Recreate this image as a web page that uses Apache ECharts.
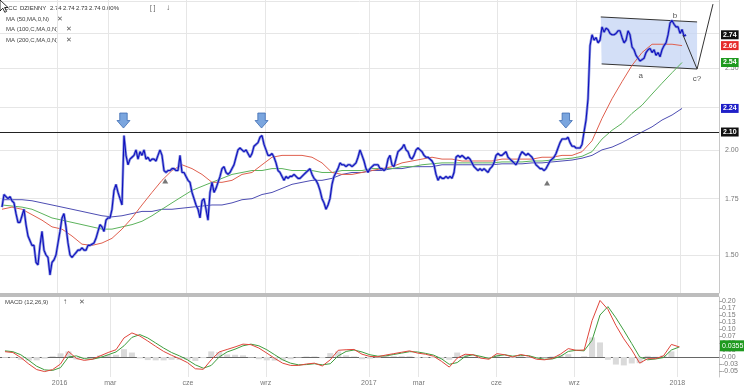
<!DOCTYPE html>
<html><head><meta charset="utf-8">
<script src="https://cdn.jsdelivr.net/npm/echarts@6/dist/echarts.min.js"></script>
<style>html,body{margin:0;padding:0;background:#fff}#c{width:744px;height:392px}</style>
</head><body><div id="c"></div>
<script>
// ---------------- data ----------------
const firstSampleDate = '2015-10-28T11:00:00Z';
const sampleStepDays = 2.3467;
const closes = [
1.71,1.77,1.76,1.75,1.76,1.74,1.73,1.68,1.64,1.64,
1.67,1.70,1.63,1.58,1.56,1.54,1.54,1.47,1.46,1.54,
1.60,1.52,1.50,1.49,1.42,1.47,1.48,1.50,1.55,1.60,
1.66,1.68,1.62,1.55,1.50,1.49,1.50,1.51,1.52,1.52,
1.53,1.52,1.52,1.54,1.54,1.545,1.55,1.57,1.60,1.63,
1.62,1.60,1.65,1.66,1.66,1.70,1.79,1.82,1.78,1.75,
1.72,2.08,1.97,1.92,1.95,1.96,1.97,2.00,1.95,1.99,
1.97,2.00,1.95,1.96,1.94,1.95,1.95,1.94,1.97,2.00,
1.97,1.89,1.88,1.89,1.89,1.90,1.90,1.89,1.89,1.97,
1.88,1.88,1.86,1.84,1.83,1.78,1.75,1.72,1.70,1.66,
1.74,1.75,1.70,1.65,1.78,1.83,1.78,1.80,1.83,1.86,
1.90,1.91,1.88,1.87,1.88,1.90,1.92,1.96,2.00,2.01,
2.00,1.99,2.00,1.98,1.96,1.98,2.02,2.03,2.04,2.07,
2.08,2.03,2.00,1.97,1.97,1.98,1.96,1.93,1.89,1.88,
1.86,1.84,1.86,1.85,1.86,1.86,1.87,1.86,1.85,1.85,
1.86,1.87,1.88,1.89,1.90,1.87,1.85,1.84,1.82,1.79,
1.75,1.73,1.70,1.72,1.75,1.82,1.86,1.88,1.90,1.93,
1.92,1.92,1.91,1.92,1.92,1.91,1.92,1.93,1.96,2.00,
1.97,1.94,1.90,1.88,1.90,1.91,1.92,1.92,1.92,1.90,
1.90,1.89,1.90,1.95,1.97,1.92,1.91,1.95,1.99,2.00,
2.01,2.03,2.00,1.99,1.96,1.95,1.97,2.00,2.01,2.00,
1.99,1.97,1.96,1.96,1.95,1.94,1.92,1.87,1.84,1.86,
1.85,1.85,1.86,1.85,1.86,1.85,1.88,1.96,1.97,1.96,
1.97,1.96,1.95,1.96,1.95,1.93,1.91,1.90,1.89,1.90,
1.89,1.90,1.89,1.88,1.90,1.91,1.93,1.97,1.98,1.97,
1.97,1.98,1.99,1.96,1.95,1.94,1.93,1.92,1.94,1.97,
1.99,1.98,1.97,1.98,1.97,1.96,1.94,1.92,1.91,1.90,
1.90,1.89,1.90,1.92,1.94,1.95,1.96,1.98,2.01,2.04,
2.06,2.06,2.06,2.07,2.04,2.02,2.02,2.01,2.01,2.01,
2.03,2.10,2.17,2.30,2.66,2.74,2.70,2.72,2.68,2.70,
2.80,2.76,2.79,2.78,2.75,2.74,2.74,2.75,2.77,2.77,
2.72,2.68,2.70,2.77,2.74,2.65,2.63,2.59,2.57,2.55,
2.56,2.57,2.61,2.63,2.64,2.61,2.63,2.59,2.61,2.58,
2.63,2.66,2.68,2.74,2.83,2.85,2.82,2.80,2.80,2.75,
2.78,2.73,2.74
];
const maEvery = 5;   // moving averages read at every 5th sample
const ma50 = [
1.70,1.71,1.70,1.675,1.65,1.62,1.61,1.58,1.545,1.54,
1.55,1.57,1.61,1.66,1.72,1.78,1.84,1.89,1.92,1.90,
1.87,1.83,1.83,1.84,1.87,1.88,1.92,1.96,1.97,1.97,
1.97,1.96,1.93,1.88,1.87,1.87,1.88,1.89,1.90,1.91,
1.93,1.94,1.95,1.96,1.95,1.95,1.94,1.94,1.94,1.94,
1.95,1.95,1.95,1.95,1.96,1.96,1.97,1.97,1.99,2.05,
2.18,2.30,2.41,2.52,2.61,2.67,2.67,2.67,2.66
];
const ma100 = [
1.72,1.715,1.71,1.70,1.68,1.66,1.65,1.64,1.63,1.62,
1.61,1.61,1.62,1.63,1.645,1.67,1.70,1.73,1.76,1.79,
1.81,1.83,1.85,1.87,1.88,1.89,1.89,1.90,1.90,1.89,
1.89,1.89,1.88,1.88,1.89,1.89,1.89,1.90,1.90,1.90,
1.91,1.91,1.92,1.925,1.93,1.93,1.93,1.93,1.93,1.93,
1.935,1.935,1.935,1.94,1.94,1.945,1.95,1.955,1.965,1.99,
2.06,2.11,2.15,2.21,2.26,2.33,2.40,2.47,2.54
];
const ma200 = [
1.745,1.745,1.745,1.74,1.73,1.72,1.71,1.70,1.69,1.68,
1.67,1.665,1.67,1.68,1.69,1.69,1.70,1.70,1.705,1.71,
1.715,1.72,1.72,1.73,1.745,1.75,1.77,1.78,1.80,1.82,
1.83,1.84,1.84,1.85,1.87,1.88,1.88,1.89,1.89,1.90,
1.90,1.91,1.91,1.91,1.92,1.92,1.92,1.92,1.92,1.92,
1.925,1.925,1.925,1.93,1.93,1.935,1.94,1.945,1.955,1.97,
2.00,2.015,2.04,2.07,2.10,2.13,2.17,2.20,2.24
];
const macdEvery = 4;  // MACD read at every 4th sample
const macdLine = [
0.019,0.016,-0.002,-0.025,-0.045,-0.052,-0.045,-0.025,0.020,-0.005,
-0.012,-0.008,0.004,0.016,0.026,0.068,0.086,0.075,0.057,0.038,
0.020,0.006,-0.006,-0.020,-0.042,-0.044,-0.010,0.018,0.027,0.036,
0.046,0.044,0.032,0.014,-0.005,-0.022,-0.030,-0.030,-0.025,-0.022,
-0.032,-0.010,0.024,0.026,0.027,0.010,0.002,0.001,0.007,0.012,
0.017,0.022,0.014,0.010,0.003,-0.015,-0.036,-0.004,0.010,0.008,
-0.004,-0.008,0.012,0.008,0.000,0.009,0.003,-0.008,-0.010,-0.005,
0.010,0.030,0.024,0.025,0.130,0.202,0.170,0.113,0.065,0.025,
-0.022,-0.006,-0.006,0.004,0.045,0.036
];
const signalLine = [
0.022,0.019,0.008,-0.012,-0.033,-0.046,-0.048,-0.038,0.000,0.004,
-0.006,-0.008,-0.002,0.008,0.018,0.040,0.070,0.080,0.068,0.050,
0.032,0.016,0.004,-0.010,-0.028,-0.040,-0.030,0.000,0.018,0.028,
0.040,0.046,0.040,0.026,0.008,-0.010,-0.022,-0.028,-0.027,-0.024,
-0.028,-0.024,0.004,0.020,0.025,0.018,0.008,0.003,0.004,0.009,
0.014,0.019,0.018,0.013,0.007,-0.006,-0.026,-0.020,0.002,0.008,
0.002,-0.005,0.004,0.008,0.003,0.006,0.005,-0.003,-0.008,-0.007,
0.002,0.020,0.024,0.022,0.060,0.150,0.180,0.140,0.095,0.048,
0.000,-0.010,-0.007,-0.002,0.025,0.036
];
const histBars = [
-0.003,-0.003,-0.010,-0.013,-0.012,-0.006,0.003,0.013,0.020,-0.009,
-0.006,0.000,0.006,0.008,0.008,0.028,0.016,-0.005,-0.011,-0.012,
-0.012,-0.010,-0.010,-0.010,-0.014,-0.004,0.020,0.018,0.009,0.008,
0.006,-0.002,-0.008,-0.012,-0.013,-0.012,-0.008,-0.002,0.002,0.002,
-0.004,0.014,0.020,0.006,0.002,-0.008,-0.006,-0.002,0.003,0.003,
0.003,0.003,-0.004,-0.003,-0.004,-0.009,-0.010,0.016,0.008,0.000,
-0.006,-0.003,0.008,0.000,-0.003,0.003,-0.002,-0.005,-0.002,0.002,
0.008,0.010,0.000,0.003,0.070,0.052,-0.010,-0.027,-0.030,-0.023,
-0.022,0.004,0.001,0.006,0.020,0.000
];
const monthTicks = ['2016-01-01','2016-03-01','2016-06-01','2016-09-01','2017-01-01','2017-03-01','2017-06-01','2017-09-01','2018-01-01'];
const monthLabels = ['2016','mar','cze','wrz','2017','mar','cze','wrz','2018'];
const priceGridValues = [1.5,1.75,2.0,2.25,2.5,2.75,3.0];
const priceLabelValues = [1.5,1.75,2.0,2.5];
const macdTickValues = [0.2,0.175,0.15,0.125,0.1,0.075,0.05,0.025,0,-0.025,-0.05];
const lastTags = [
  {value:2.74, color:'#111111'},
  {value:2.66, color:'#e52b2b'},
  {value:2.54, color:'#1f9a1f'},
  {value:2.24, color:'#2020c8'}
];
const resistanceLevel = 2.10;
const macdLastValue = 0.0355;
const arrowPoints = [['2016-03-19',2.167],['2016-08-28',2.167],['2017-08-20',2.167]];
const pivotMarks = [['2016-05-07',1.837],['2017-07-29',1.826]];
const channelCorners = [['2017-09-30',2.877],['2018-01-21',2.838],['2018-01-21',2.495],['2017-10-01',2.530]];
const waveLine = [['2018-01-04T12:00:00Z',2.738],['2018-01-21',2.495],['2018-02-08T16:00:00Z',2.98]];
const waveLabels = [['a','2017-11-16',2.448],['b','2017-12-26',2.885],['c?','2018-01-21',2.428]];
const headerWords = [['LCC',5],['DZIENNY',20],['2.74',50],['2.74',63],['2.73',76],['2.74',89],['0.00%',102]];
const axisStart = '2015-10-26T03:00:00Z';
const axisEnd = '2018-02-15T17:00:00Z';
const priceMin = 1.3519, priceMax = 3.0136;
const macdMin = -0.0714, macdMax = 0.2143;

// ---------------- helpers ----------------
const T = s => Date.parse(s.length === 10 ? s + 'T00:00:00Z' : s);
const t0 = T(firstSampleDate);
const DAY = 86400000;
const sampleTime = i => t0 + i * sampleStepDays * DAY;
const FONT = "'Liberation Sans', Arial, sans-serif";
const CLEAR = 'rgba(0,0,0,0)';

const priceData = closes.map((v, i) => [sampleTime(i), v]);
const maData = arr => arr.map((v, k) => [sampleTime(k * maEvery), v]);
const mdData = arr => arr.map((v, k) => [sampleTime(k * macdEvery), v]);

const chart = echarts.init(document.getElementById('c'), null, {renderer: 'canvas'});

const txt = (x, y, s, size, color) => ({type: 'text', x: x, y: y, silent: true,
  style: {text: s, fontSize: size || 6, fill: color || '#444', fontFamily: FONT, verticalAlign: 'middle'}});

const tagLabel = (text, bg) => ({show: true, position: 'end', distance: 2, formatter: text,
  backgroundColor: bg, color: '#fff', fontSize: 7, fontWeight: 'bold', padding: [1, 2], fontFamily: FONT});

const option = {
  animation: false,
  backgroundColor: '#ffffff',
  grid: [
    {left: 0, right: 25, top: 0, height: 293},
    {left: 0, right: 25, top: 297, height: 80}
  ],
  xAxis: [
    {type: 'time', gridIndex: 0, min: T(axisStart), max: T(axisEnd),
      axisLabel: {show: false}, axisTick: {show: false}, axisLine: {show: false}, splitLine: {show: false}},
    {type: 'time', gridIndex: 1, min: T(axisStart), max: T(axisEnd),
      axisLabel: {show: false}, axisTick: {show: false},
      axisLine: {show: true, lineStyle: {color: '#666', width: 1}}, splitLine: {show: false}}
  ],
  yAxis: [
    {type: 'log', logBase: 10, gridIndex: 0, position: 'right', min: priceMin, max: priceMax,
      axisLabel: {show: false}, axisTick: {show: false}, splitLine: {show: false},
      axisLine: {show: true, lineStyle: {color: '#c8c8c8'}}},
    {type: 'value', gridIndex: 1, position: 'right', min: macdMin, max: macdMax,
      axisLabel: {show: true, customValues: macdTickValues, formatter: v => v.toFixed(2),
        fontSize: 7, color: '#777', fontFamily: FONT, margin: 3},
      axisTick: {show: true, customValues: macdTickValues, length: 3, lineStyle: {color: '#aaa'}},
      splitLine: {show: false},
      axisLine: {show: true, lineStyle: {color: '#c8c8c8'}}}
  ],
  graphic: [
    {type: 'rect', shape: {x: 0, y: 293, width: 719, height: 4}, style: {fill: '#bdbdbd'}, silent: true}
  ].concat(headerWords.map(w => txt(w[1], 8, w[0], 6, '#333')), [
    txt(150, 8, '[ ]', 6.5, '#555'), txt(166, 8, '\u2193', 8, '#555'),
    txt(6, 19, 'MA (50,MA,0,N)', 6, '#444'), txt(57, 19, '\u2715', 7, '#555'),
    txt(6, 29, 'MA (100,C,MA,0,N)', 6, '#444'), txt(66, 29, '\u2715', 7, '#555'),
    txt(6, 40, 'MA (200,C,MA,0,N)', 6, '#444'), txt(66, 40, '\u2715', 7, '#555'),
    txt(5, 302, 'MACD (12,26,9)', 6, '#444'), txt(63, 302, '\u2191', 8, '#555'), txt(79, 302, '\u2715', 7, '#555'),
    {type: 'polygon', shape: {points: [[0,0],[0,11],[2.8,8.2],[4.8,12.3],[6.6,11.4],[4.6,7.5],[8,7.5]]},
      style: {fill: '#fff', stroke: '#000', lineWidth: 0.8}, silent: true, z: 100}
  ]),
  series: [
    // grid lines + axis labels of the price panel
    {type: 'line', xAxisIndex: 0, yAxisIndex: 0, data: priceData, showSymbol: false, silent: true,
      lineStyle: {color: CLEAR}, z: 0,
      markLine: {silent: true, symbol: ['none', 'none'], z: 0, animation: false,
        lineStyle: {color: '#e6e6e6', width: 1, type: 'solid'},
        data: monthTicks.map(d => ({xAxis: T(d), label: {show: false}}))
          .concat(priceGridValues.map(v => ({yAxis: v,
            label: {show: priceLabelValues.indexOf(v) >= 0, position: 'end', distance: 6,
              formatter: v.toFixed(2), fontSize: 7, color: '#777', fontFamily: FONT}})))
      }},
    // channel annotation
    {type: 'custom', xAxisIndex: 0, yAxisIndex: 0, z: 1, silent: true,
      data: [[T(channelCorners[0][0]), channelCorners[0][1]]],
      renderItem: (params, api) => {
        const pts = channelCorners.map(p => api.coord([T(p[0]), p[1]]));
        return {type: 'group', children: [
          {type: 'polygon', shape: {points: pts}, style: {fill: 'rgba(196,212,244,0.75)'}},
          {type: 'polyline', shape: {points: [pts[0], pts[1]]}, style: {stroke: '#333', lineWidth: 1, fill: null}},
          {type: 'polyline', shape: {points: [pts[3], pts[2]]}, style: {stroke: '#333', lineWidth: 1, fill: null}}
        ]};
      }},
    {name: 'MA200', type: 'line', xAxisIndex: 0, yAxisIndex: 0, data: maData(ma200), showSymbol: false,
      lineStyle: {color: '#4d4db3', width: 1}, z: 2, silent: true},
    {name: 'MA100', type: 'line', xAxisIndex: 0, yAxisIndex: 0, data: maData(ma100), showSymbol: false,
      lineStyle: {color: '#5cb35c', width: 1}, z: 2, silent: true},
    {name: 'MA50', type: 'line', xAxisIndex: 0, yAxisIndex: 0, data: maData(ma50), showSymbol: false,
      lineStyle: {color: '#e0604f', width: 1}, z: 2, silent: true},
    {name: 'LCC-range', type: 'line', xAxisIndex: 0, yAxisIndex: 0, data: priceData, showSymbol: false,
      lineStyle: {color: '#7584d8', width: 2.6, opacity: 0.85}, z: 3, silent: true},
    {name: 'LCC', type: 'line', xAxisIndex: 0, yAxisIndex: 0, data: priceData, showSymbol: false,
      lineStyle: {color: '#0f0fbe', width: 1.1}, z: 3, silent: true},
    // annotations: wave line, level line, tags, arrows, letters
    {type: 'line', xAxisIndex: 0, yAxisIndex: 0, z: 4, silent: true, showSymbol: false,
      data: waveLine.map(p => [T(p[0]), p[1]]),
      lineStyle: {color: '#333', width: 1},
      markLine: {silent: true, symbol: ['none', 'none'], z: 6, animation: false,
        data: [{yAxis: resistanceLevel, lineStyle: {color: '#222', width: 1.2, type: 'solid'},
                label: tagLabel(resistanceLevel.toFixed(2), '#111')}]
          .concat(lastTags.map(tg => ({yAxis: tg.value, lineStyle: {color: CLEAR, width: 1},
                label: tagLabel(tg.value.toFixed(2), tg.color)})))
      },
      markPoint: {silent: true, z: 7, animation: false,
        data: arrowPoints.map(p => ({coord: [T(p[0]), p[1]],
            symbol: 'path://M3,0 L11,0 L11,8 L14,8 L7,16 L0,8 L3,8 Z', symbolSize: [13, 15],
            itemStyle: {color: '#7aa5de', borderColor: '#3e6db3', borderWidth: 0.8}, label: {show: false}}))
          .concat(pivotMarks.map(p => ({coord: [T(p[0]), p[1]], symbol: 'triangle', symbolSize: [6, 5],
            itemStyle: {color: '#777'}, label: {show: false}})))
          .concat(waveLabels.map(p => ({coord: [T(p[1]), p[2]], symbol: 'circle', symbolSize: 1,
            itemStyle: {color: CLEAR},
            label: {show: true, position: 'inside', formatter: p[0], fontSize: 8, color: '#555', fontFamily: FONT}})))
      }},
    // MACD panel grid lines and labels
    {type: 'line', xAxisIndex: 1, yAxisIndex: 1, data: mdData(macdLine), showSymbol: false, silent: true,
      lineStyle: {color: CLEAR}, z: 0,
      markLine: {silent: true, symbol: ['none', 'none'], z: 0, animation: false,
        lineStyle: {color: '#e6e6e6', width: 1, type: 'solid'},
        data: monthTicks.map((d, i) => ({xAxis: T(d),
          label: {show: true, position: 'start', distance: 3, formatter: monthLabels[i],
            fontSize: 7, color: '#777', fontFamily: FONT}}))
          .concat([{yAxis: 0, label: {show: false}, lineStyle: {color: '#e2e2e2'}}])
      }},
    {name: 'hist', type: 'bar', xAxisIndex: 1, yAxisIndex: 1, data: mdData(histBars), barWidth: 6,
      itemStyle: {color: '#dadada'}, z: 1, silent: true},
    {name: 'signal', type: 'line', xAxisIndex: 1, yAxisIndex: 1, data: mdData(signalLine), showSymbol: false,
      lineStyle: {color: '#3e9e3e', width: 1}, z: 2, silent: true},
    {name: 'MACD', type: 'line', xAxisIndex: 1, yAxisIndex: 1, data: mdData(macdLine), showSymbol: false,
      lineStyle: {color: '#e0463c', width: 1}, z: 3, silent: true,
      markLine: {silent: true, symbol: ['none', 'none'], z: 6, animation: false,
        data: [{yAxis: macdLastValue, lineStyle: {color: CLEAR, width: 1},
          label: {show: true, position: 'end', distance: 1, formatter: String(macdLastValue),
            backgroundColor: '#1f9a1f', color: '#fff', fontSize: 7, padding: [2, 2], fontFamily: FONT}}]
      }}
  ]
};
chart.setOption(option);
</script>
</body></html>
